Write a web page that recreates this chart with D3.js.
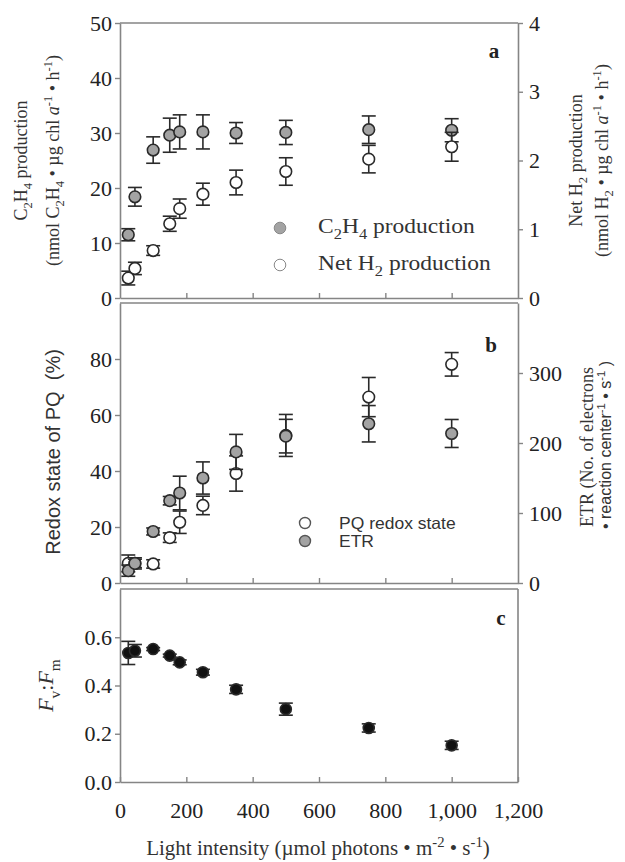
<!DOCTYPE html>
<html><head><meta charset="utf-8">
<script src="https://cdn.jsdelivr.net/npm/d3@7"></script>
<style>
html,body{margin:0;padding:0;background:#fff;}
svg{display:block;}
</style></head>
<body>
<svg id="chart" width="625" height="862"></svg>
<script>
// ---------------- DATA ----------------
const lightIntensity = [25, 45, 100, 150, 180, 250, 350, 500, 750, 1000];
// panel a
const c2h4Production = [11.5, 18.4, 26.9, 29.6, 30.2, 30.2, 30.0, 30.1, 30.6, 30.5];
const c2h4Error      = [1.1, 1.7, 2.4, 3.1, 3.1, 3.1, 1.9, 2.2, 2.5, 2.1];
const netH2Production = [0.29, 0.43, 0.69, 1.08, 1.30, 1.51, 1.68, 1.84, 2.02, 2.20];
const netH2Error      = [0.10, 0.09, 0.07, 0.11, 0.14, 0.16, 0.18, 0.20, 0.20, 0.21];
// panel b
const pqRedoxState = [7.0, 7.0, 6.8, 16.2, 21.7, 27.7, 39.1, 52.7, 66.4, 78.1];
const pqError      = [3.0, 2.0, 1.5, 1.7, 4.0, 3.3, 6.3, 7.5, 7.0, 4.2];
const etrValues    = [17.6, 28, 73.6, 117.6, 128.6, 150, 187.3, 209.8, 227.5, 213.6];
const etrError     = [8, 6, 5, 6, 24, 23, 25, 24, 26, 20];
// panel c
const fvFm      = [0.535, 0.544, 0.551, 0.524, 0.496, 0.455, 0.384, 0.302, 0.224, 0.152];
const fvFmError = [0.048, 0.026, 0.006, 0.006, 0.010, 0.012, 0.017, 0.025, 0.017, 0.017];
// ticks
const xTicks = [0, 200, 400, 600, 800, 1000, 1200];
const aLeftTicks = [0, 10, 20, 30, 40, 50];
const aRightTicks = [0, 1, 2, 3, 4];
const bLeftTicks = [0, 20, 40, 60, 80];
const bRightTicks = [0, 100, 200, 300];
const cLeftTicks = [0, 0.2, 0.4, 0.6];

// ---------------- STYLE ----------------
const SERIF = "'Liberation Serif','Times New Roman',serif";
const SANS = "'Liberation Sans',Arial,sans-serif";
const AXIS = "#858585";
const INK = "#2a2a2a";
const GRAYFILL = "#a3a3a3";

const svg = d3.select("#chart");
const x = d3.scaleLinear().domain([0, 1200]).range([120, 518]);

function rich(textSel, parts, fs) {
  let shift = 0;
  parts.forEach(p => {
    const str = p[0], kind = p[1] || "n";
    const target = (kind === "sub" || kind === "subi") ? fs * 0.3 : kind === "sup" ? -fs * 0.4 : 0;
    const ts = textSel.append("tspan").text(str).attr("dy", target - shift);
    if (kind === "sub" || kind === "sup" || kind === "subi") ts.attr("font-size", fs * 0.7);
    if (kind === "i" || kind === "subi") ts.attr("font-style", "italic");
    shift = target;
  });
}

function styleAxis(g) {
  g.selectAll("path.domain").attr("stroke", AXIS).attr("stroke-width", 1.6);
  g.selectAll(".tick line").attr("stroke", AXIS).attr("stroke-width", 1.4);
  g.selectAll(".tick text").attr("fill", "#222").attr("font-family", SERIF).attr("font-size", 22);
}

function panel(top, bottom, yL, leftTicks, leftFmt, yR, rightTicks, showXLabels) {
  const g = svg.append("g");
  g.append("line").attr("x1", x(0)).attr("x2", x(1200)).attr("y1", top).attr("y2", top)
    .attr("stroke", AXIS).attr("stroke-width", 1.6);
  const bx = g.append("g").attr("transform", `translate(0,${bottom})`)
    .call(d3.axisBottom(x).tickValues(showXLabels ? xTicks : xTicks.slice(1, -1))
      .tickSize(-5).tickSizeOuter(0).tickPadding(20)
      .tickFormat(showXLabels ? d3.format(",") : () => ""));
  styleAxis(bx);
  const lx = g.append("g").attr("transform", `translate(${x(0)},0)`)
    .call(d3.axisLeft(yL).tickValues(leftTicks).tickSize(5).tickSizeOuter(0).tickPadding(3).tickFormat(leftFmt));
  styleAxis(lx);
  if (yR) {
    const rx = g.append("g").attr("transform", `translate(${x(1200)},0)`)
      .call(d3.axisRight(yR).tickValues(rightTicks).tickSize(5).tickSizeOuter(0).tickPadding(6).tickFormat(d3.format("d")));
    styleAxis(rx);
  } else {
    g.append("line").attr("x1", x(1200)).attr("x2", x(1200)).attr("y1", top).attr("y2", bottom)
      .attr("stroke", AXIS).attr("stroke-width", 1.6);
  }
  return g;
}

function series(g, xs, ys, errs, yScale, fill, r) {
  const gg = g.append("g");
  const cap = 7;
  xs.forEach((xv, i) => {
    const cx = x(xv), y0 = yScale(ys[i] - errs[i]), y1 = yScale(ys[i] + errs[i]);
    gg.append("line").attr("x1", cx).attr("x2", cx).attr("y1", y0).attr("y2", y1).attr("stroke", INK).attr("stroke-width", 1.6);
    gg.append("line").attr("x1", cx - cap).attr("x2", cx + cap).attr("y1", y0).attr("y2", y0).attr("stroke", INK).attr("stroke-width", 1.6);
    gg.append("line").attr("x1", cx - cap).attr("x2", cx + cap).attr("y1", y1).attr("y2", y1).attr("stroke", INK).attr("stroke-width", 1.6);
  });
  gg.selectAll("circle").data(xs).enter().append("circle")
    .attr("cx", d => x(d)).attr("cy", (d, i) => yScale(ys[i])).attr("r", r)
    .attr("fill", fill).attr("stroke", INK).attr("stroke-width", 1.6);
}

// ---------------- PANEL A ----------------
const aTop = 23, aBot = 298;
const yA = d3.scaleLinear().domain([0, 50]).range([aBot, aTop]);
const yA2 = d3.scaleLinear().domain([0, 4]).range([aBot, aTop]);
const pA = panel(aTop, aBot, yA, aLeftTicks, d3.format("d"), yA2, aRightTicks, false);
series(pA, lightIntensity, c2h4Production, c2h4Error, yA, GRAYFILL, 5.8);
series(pA, lightIntensity, netH2Production, netH2Error, yA2, "#fff", 5.8);
// legend a
pA.append("circle").attr("cx", 280).attr("cy", 228).attr("r", 5.8).attr("fill", GRAYFILL).attr("stroke", "#888").attr("stroke-width", 1);
pA.append("circle").attr("cx", 280).attr("cy", 265).attr("r", 5.8).attr("fill", "#fff").attr("stroke", "#888").attr("stroke-width", 1);
rich(pA.append("text").attr("transform", "translate(318,233) scale(1.12,1)").attr("font-family", SERIF).attr("font-size", 21).attr("fill", "#333"),
  [["C"], ["2", "sub"], ["H"], ["4", "sub"], [" production"]], 21);
rich(pA.append("text").attr("transform", "translate(318,270) scale(1.12,1)").attr("font-family", SERIF).attr("font-size", 21).attr("fill", "#333"),
  [["Net H"], ["2", "sub"], [" production"]], 21);
pA.append("text").attr("x", 494).attr("y", 58).attr("text-anchor", "middle").attr("font-family", SERIF)
  .attr("font-weight", "bold").attr("font-size", 21).attr("fill", "#222").text("a");
// titles a
const aMid = (aTop + aBot) / 2;
rich(pA.append("text").attr("transform", `translate(27,${aMid}) rotate(-90)`).attr("text-anchor", "middle")
  .attr("font-family", SERIF).attr("font-size", 18).attr("fill", "#333"),
  [["C"], ["2", "sub"], ["H"], ["4", "sub"], [" production"]], 18);
rich(pA.append("text").attr("transform", `translate(59,${aMid}) rotate(-90)`).attr("text-anchor", "middle")
  .attr("font-family", SERIF).attr("font-size", 18).attr("fill", "#333"),
  [["(nmol C"], ["2", "sub"], ["H"], ["4", "sub"], [" • µg chl "], ["a", "i"], ["-1", "sup"], [" • h"], ["-1", "sup"], [")"]], 18);
rich(pA.append("text").attr("transform", `translate(582,${aMid}) rotate(-90)`).attr("text-anchor", "middle")
  .attr("font-family", SERIF).attr("font-size", 18).attr("fill", "#333"),
  [["Net H"], ["2", "sub"], [" production"]], 18);
rich(pA.append("text").attr("transform", `translate(608,${aMid}) rotate(-90)`).attr("text-anchor", "middle")
  .attr("font-family", SERIF).attr("font-size", 18).attr("fill", "#333"),
  [["(nmol H"], ["2", "sub"], [" • µg chl "], ["a", "i"], ["-1", "sup"], [" • h"], ["-1", "sup"], [")"]], 18);

// ---------------- PANEL B ----------------
const bTop = 303, bBot = 583;
const yB = d3.scaleLinear().domain([0, 100]).range([bBot, bTop]);
const yB2 = d3.scaleLinear().domain([0, 400]).range([bBot, bTop]);
const pB = panel(bTop, bBot, yB, bLeftTicks, d3.format("d"), yB2, bRightTicks, false);
series(pB, lightIntensity, pqRedoxState, pqError, yB, "#fff", 5.8);
series(pB, lightIntensity, etrValues, etrError, yB2, GRAYFILL, 5.8);
// legend b
pB.append("circle").attr("cx", 305).attr("cy", 523).attr("r", 5.5).attr("fill", "#fff").attr("stroke", "#555").attr("stroke-width", 1.4);
pB.append("circle").attr("cx", 305).attr("cy", 541).attr("r", 5.5).attr("fill", GRAYFILL).attr("stroke", "#555").attr("stroke-width", 1.4);
pB.append("text").attr("transform", "translate(339,529) scale(1.06,1)").attr("font-family", SANS).attr("font-size", 16.5).attr("fill", "#333").text("PQ redox state");
pB.append("text").attr("transform", "translate(339,547) scale(1.06,1)").attr("font-family", SANS).attr("font-size", 16.5).attr("fill", "#333").text("ETR");
pB.append("text").attr("x", 491).attr("y", 352).attr("text-anchor", "middle").attr("font-family", SERIF)
  .attr("font-weight", "bold").attr("font-size", 21).attr("fill", "#222").text("b");
const bMid = (bTop + bBot) / 2;
pB.append("text").attr("transform", `translate(60,${bMid + 9}) rotate(-90)`).attr("text-anchor", "middle")
  .attr("font-family", SANS).attr("font-size", 20).attr("fill", "#333").attr("xml:space", "preserve").text("Redox state of PQ  (%)");
pB.append("text").attr("transform", `translate(593,${bMid + 4}) rotate(-90)`).attr("text-anchor", "middle")
  .attr("font-family", SERIF).attr("font-size", 18).attr("fill", "#333").text("ETR (No. of electrons");
rich(pB.append("text").attr("transform", `translate(611,${bMid + 2}) rotate(-90)`).attr("text-anchor", "middle")
  .attr("font-family", SANS).attr("font-size", 16).attr("fill", "#333"),
  [["• reaction center"], ["-1", "sup"], [" • s"], ["-1", "sup"], [" )"]], 16);

// ---------------- PANEL C ----------------
const cTop = 589, cBot = 782;
const yC = d3.scaleLinear().domain([0, 0.8]).range([cBot, cTop]);
const pC = panel(cTop, cBot, yC, cLeftTicks, d3.format(".1f"), null, null, true);
series(pC, lightIntensity, fvFm, fvFmError, yC, "#111", 5.5);
pC.append("text").attr("x", 501).attr("y", 625).attr("text-anchor", "middle").attr("font-family", SERIF)
  .attr("font-weight", "bold").attr("font-size", 21).attr("fill", "#222").text("c");
rich(pC.append("text").attr("transform", `translate(53,${(cTop + cBot) / 2}) rotate(-90)`).attr("text-anchor", "middle")
  .attr("font-family", SERIF).attr("font-size", 22).attr("fill", "#333"),
  [["F", "i"], ["v", "sub"], [":"], ["F", "i"], ["m", "sub"]], 22);
// x title
rich(svg.append("text").attr("x", 318).attr("y", 855).attr("text-anchor", "middle")
  .attr("font-family", SERIF).attr("font-size", 21).attr("fill", "#333"),
  [["Light intensity (µmol photons • m"], ["-2", "sup"], [" • s"], ["-1", "sup"], [")"]], 21);
</script>
</body></html>
